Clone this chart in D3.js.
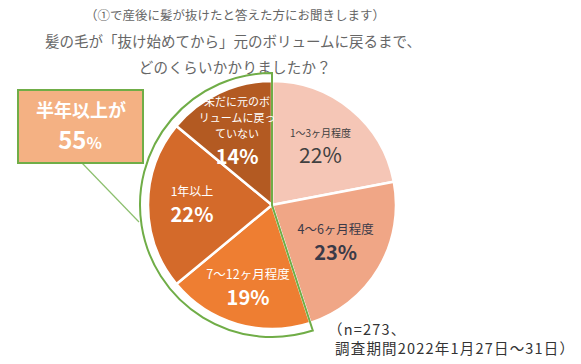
<!DOCTYPE html>
<html>
<head>
<meta charset="utf-8">
<script src="https://cdn.jsdelivr.net/npm/d3@7"></script>
<style>
  body { margin: 0; background: #fff; }
  text { font-family: "Noto Sans CJK JP", "Noto Sans", sans-serif; }
</style>
</head>
<body>
<svg id="vis"></svg>
<script>
const WIDTH = 581;
const HEIGHT = 364;

// data
const categories = ["1〜3ヶ月程度", "4〜6ヶ月程度", "7〜12ヶ月程度", "1年以上", "未だに元のボリュームに戻っていない"];
const labelLines = [["1〜3ヶ月程度"], ["4〜6ヶ月程度"], ["7〜12ヶ月程度"], ["1年以上"], ["未だに元のボ", "リュームに戻っ", "ていない"]];
const values = [22, 23, 19, 22, 14];
const colors = ["#F5C6B6", "#F0A686", "#EE7E32", "#D46A2A", "#B35A22"];
const textColors = ["#404040", "#3a3a48", "#fff", "#fff", "#fff"];
const titleLines = ["（①で産後に髪が抜けたと答えた方にお聞きします）",
                    "髪の毛が「抜け始めてから」元のボリュームに戻るまで、",
                    "どのくらいかかりましたか？"];
const noteLines = ["（n=273、", "調査期間2022年1月27日～31日）"];

const cx = 272, cy = 205, R = 124;
// label distance from the centre, per slice
const labelR = [76, 74, 86, 80, 82];
const labelSize = [10, 12.5, 12.5, 12, 11];
const pctSize = [21, 20, 20, 20, 20];

let svg = d3.select("#vis").attr("width", WIDTH).attr("height", HEIGHT);

// title
svg.append("text").attr("x", 235).attr("y", 20).attr("text-anchor", "middle")
    .attr("font-size", 12.5).attr("fill", "#666").text(titleLines[0]);
svg.append("text").attr("x", 233).attr("y", 47).attr("text-anchor", "middle")
    .attr("font-size", 14.5).attr("fill", "#666").text(titleLines[1]);
svg.append("text").attr("x", 235).attr("y", 73).attr("text-anchor", "middle")
    .attr("font-size", 14.5).attr("letter-spacing", 0.3).attr("fill", "#666").text(titleLines[2]);

const pie = d3.pie().sort(null).value(d => d);
const arcs = pie(values);
const arc = d3.arc().innerRadius(0).outerRadius(R);

const g = svg.append("g").attr("transform", `translate(${cx},${cy})`);

g.selectAll("path.slice")
    .data(arcs)
    .enter()
    .append("path")
    .attr("class", "slice")
    .attr("d", arc)
    .attr("fill", (d, i) => colors[i])
    .attr("stroke", "#fff")
    .attr("stroke-width", 2.5);

// green outline around the slices of half a year or more
const outline = d3.arc().innerRadius(0).outerRadius(R + 8)
    .startAngle(arcs[2].startAngle).endAngle(arcs[4].endAngle);
g.append("path").attr("d", outline())
    .attr("fill", "none").attr("stroke", "#70AD47").attr("stroke-width", 2);

// slice labels
arcs.forEach((d, i) => {
    const [lx, ly] = d3.arc().innerRadius(labelR[i]).outerRadius(labelR[i]).centroid(d);
    const lines = labelLines[i];
    const lh = 16;
    const gap = 26;
    const first = ly - ((lines.length - 1) * lh + gap) / 2 + 4;
    lines.forEach((t, j) => {
        g.append("text").attr("x", lx).attr("y", first + j * lh)
            .attr("text-anchor", "middle").attr("font-size", labelSize[i])
            .attr("fill", textColors[i]).text(t);
    });
    g.append("text").attr("x", lx).attr("y", first + (lines.length - 1) * lh + gap)
        .attr("text-anchor", "middle").attr("font-size", pctSize[i])
        .attr("font-weight", i === 0 ? 400 : 700)
        .attr("fill", textColors[i]).text(values[i] + "%");
});

// callout
const sumHalf = values[2] + values[3] + values[4];
svg.append("line").attr("x1", 82).attr("y1", 163).attr("x2", 139).attr("y2", 222)
    .attr("stroke", "#8CBF6E").attr("stroke-width", 1.2);
svg.append("rect").attr("x", 18).attr("y", 90).attr("width", 125).attr("height", 73)
    .attr("fill", "#F4B183").attr("stroke", "#70AD47").attr("stroke-width", 2);
svg.append("text").attr("x", 81).attr("y", 117).attr("text-anchor", "middle")
    .attr("font-size", 18).attr("font-weight", 700).attr("fill", "#fff").text("半年以上が");
const big = svg.append("text").attr("x", 80).attr("y", 149).attr("text-anchor", "middle")
    .attr("font-weight", 700).attr("fill", "#fff");
big.append("tspan").attr("font-size", 24).text(sumHalf);
big.append("tspan").attr("font-size", 16).text("%");

// note
svg.append("text").attr("x", 328).attr("y", 335).attr("font-size", 14.5)
    .attr("letter-spacing", 1.2).attr("fill", "#333").text(noteLines[0]);
svg.append("text").attr("x", 335).attr("y", 354).attr("font-size", 14.5)
    .attr("letter-spacing", 1.2).attr("fill", "#333").text(noteLines[1]);
</script>
</body>
</html>
